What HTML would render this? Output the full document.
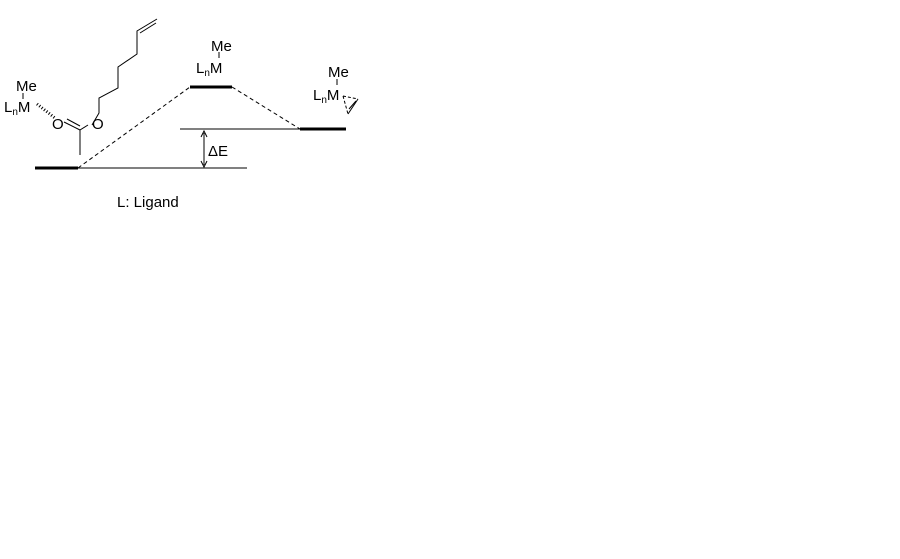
<html><body style="margin:0;background:#fff;width:900px;height:559px;overflow:hidden">
<svg width="900" height="559" style="font-family:'Liberation Sans',sans-serif;font-size:15px" fill="#000">
<g stroke="#000" fill="none" stroke-width="1">
<line x1="35" y1="168" x2="78" y2="168" stroke-width="3"/>
<line x1="78" y1="168" x2="247" y2="168"/>
<line x1="78" y1="168" x2="190" y2="87" stroke-dasharray="4,3"/>
<line x1="190" y1="87" x2="232" y2="87" stroke-width="3"/>
<line x1="232" y1="87" x2="300" y2="129" stroke-dasharray="4,3"/>
<line x1="180" y1="129" x2="300" y2="129"/>
<line x1="300" y1="129" x2="346" y2="129" stroke-width="3"/>
<line x1="204" y1="133" x2="204" y2="165"/>
<path d="M201,137 L204,131 L207,137 M201,161 L204,167 L207,161"/>
<polyline points="88,125 80,130 80,155"/>
<line x1="80" y1="130" x2="64" y2="122"/><line x1="80" y1="126" x2="67" y2="119"/>
<polyline points="92,125 99,113 99,98 118,88 118,67 137,54 137,31 157,19"/>
<line x1="140" y1="33" x2="156" y2="23"/>
<line x1="23" y1="93" x2="23" y2="99"/>
<line x1="37" y1="104" x2="55" y2="118" stroke-width="3" stroke-dasharray="1,2"/>
<line x1="219" y1="52" x2="219" y2="58"/>
<line x1="337" y1="79" x2="337" y2="85"/>
<path d="M343,96 L358,99 M343,96 L348,114" stroke-dasharray="3,2"/>
<line x1="358" y1="99" x2="348" y2="114"/>
<line x1="349" y1="109" x2="356" y2="101"/>
</g>
<text x="16" y="91">Me</text>
<text x="4" y="112">L<tspan font-size="10" dy="3">n</tspan><tspan dy="-3">M</tspan></text>
<text x="52" y="129">O</text><text x="92" y="129">O</text>
<text x="211" y="51">Me</text>
<text x="196" y="73">L<tspan font-size="10" dy="3">n</tspan><tspan dy="-3">M</tspan></text>
<text x="328" y="77">Me</text>
<text x="313" y="100">L<tspan font-size="10" dy="3">n</tspan><tspan dy="-3">M</tspan></text>
<text x="208" y="156">ΔE</text>
<text x="117" y="207">L: Ligand</text>
</svg></body></html>
